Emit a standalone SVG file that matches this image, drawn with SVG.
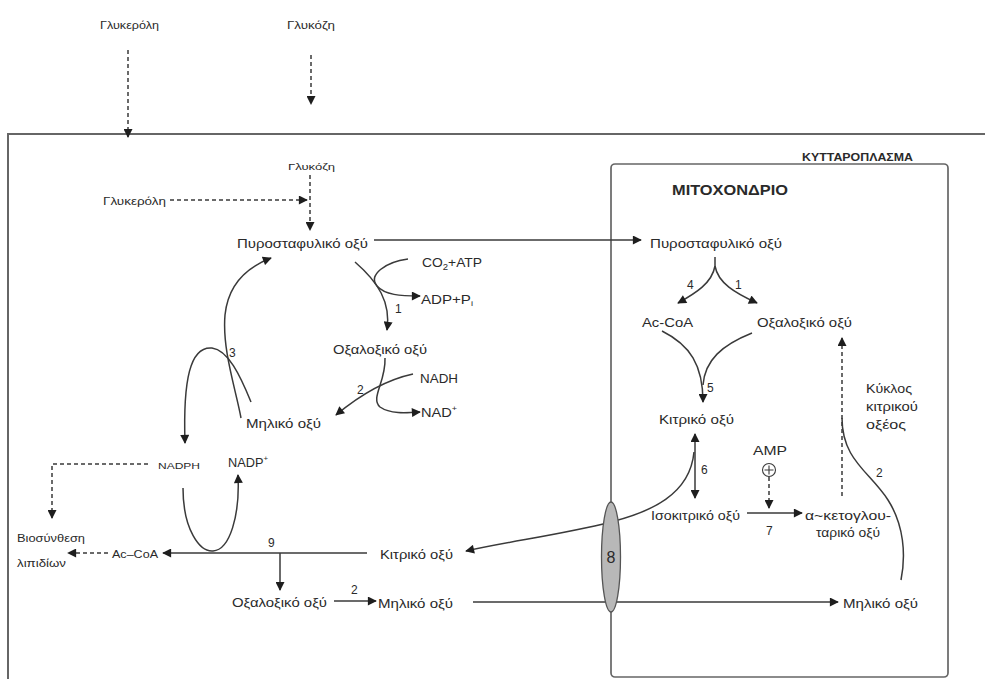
<svg xmlns="http://www.w3.org/2000/svg" width="985" height="679" viewBox="0 0 985 679">
<style>
  text { font-family: "Liberation Sans", Arial, sans-serif; fill: #2a2a2a; }
  .s9 { font-size: 9.5px; }
  .s10 { font-size: 10px; }
  .s12 { font-size: 12px; }
  .s13 { font-size: 13px; }
  .ln { fill: none; stroke: #3a3a3a; stroke-width: 1.5; }
  .ds { stroke-dasharray: 4 3; }
  .frame { fill: none; stroke: #666; stroke-width: 2; }
</style>
<defs>
  <marker id="ah" viewBox="0 0 10 10" refX="9" refY="5" markerWidth="10" markerHeight="9" markerUnits="userSpaceOnUse" orient="auto">
    <path d="M0,0 L10,5 L0,10 z" fill="#1e1e1e"/>
  </marker>
</defs>
<rect width="985" height="679" fill="#fff"/>

<g id="compartments">
  <path class="frame" d="M 8 679 L 8 134 L 985 134"/>
  <rect x="611" y="164" width="337" height="513" rx="4" fill="none" stroke="#666" stroke-width="1.7"/>
  <text x="802" y="161" font-size="10" font-weight="bold" textLength="111" lengthAdjust="spacingAndGlyphs">ΚΥΤΤΑΡΟΠΛΑΣΜΑ</text>
  <text x="672" y="195" font-size="14" font-weight="bold" textLength="116" lengthAdjust="spacingAndGlyphs">ΜΙΤΟΧΟΝΔΡΙΟ</text>
</g>

<g id="connectors">
  <path class="ln ds" d="M 128 50 L 128 137" marker-end="url(#ah)"/>
  <path class="ln ds" d="M 311 55 L 311 104" marker-end="url(#ah)"/>
  <path class="ln ds" d="M 310 175 L 310 230" marker-end="url(#ah)"/>
  <path class="ln ds" d="M 170 200 L 307 200" marker-end="url(#ah)"/>
  <path class="ln" d="M 374 240 L 641 240" marker-end="url(#ah)"/>
  <path class="ln" d="M 355 262 C 378 282, 391 302, 387 330" marker-end="url(#ah)"/>
  <path class="ln" d="M 408 259 C 385 262, 368 275, 377 286 C 385 295, 400 296, 420 296" marker-end="url(#ah)"/>
  <path class="ln" d="M 385 358 C 386 382, 370 398, 380 407 C 390 414, 405 413, 420 412" marker-end="url(#ah)"/>
  <path class="ln" d="M 413 374 C 385 380, 360 395, 336 415" marker-end="url(#ah)"/>
  <path class="ln" d="M 241 418 C 236 390, 222 350, 225 315 C 228 285, 245 268, 271 258" marker-end="url(#ah)"/>
  <path class="ln" d="M 251 402 C 240 375, 228 350, 212 348 C 190 346, 183 380, 185 443" marker-end="url(#ah)"/>
  <path class="ln" d="M 183 488 C 183 530, 200 552, 213 551 C 230 550, 240 515, 238 475" marker-end="url(#ah)"/>
  <path class="ln ds" d="M 148 464 L 52 464 L 52 518" marker-end="url(#ah)"/>
  <path class="ln" d="M 367 553 L 163 553" marker-end="url(#ah)"/>
  <path class="ln" d="M 280 553 L 280 590" marker-end="url(#ah)"/>
  <path class="ln ds" d="M 108 553 L 68 553" marker-end="url(#ah)"/>
  <path class="ln" d="M 334 601 L 376 601" marker-end="url(#ah)"/>
  <path class="ln" d="M 473 602 L 838 602" marker-end="url(#ah)"/>
  <path class="ln" d="M 715 257 L 715 266 C 712 283, 696 293, 678 303" marker-end="url(#ah)"/>
  <path class="ln" d="M 715 266 C 718 283, 735 293, 757 303" marker-end="url(#ah)"/>
  <path class="ln" d="M 662 331 C 690 345, 703 365, 703 402" marker-end="url(#ah)"/>
  <path class="ln" d="M 752 333 C 722 345, 705 360, 703 385"/>
  <path class="ln" d="M 695 466 L 695 434" marker-end="url(#ah)"/>
  <path class="ln" d="M 695 466 L 695 498" marker-end="url(#ah)"/>
  <path class="ln" d="M 694 452 C 690 495, 650 512, 611 522 C 560 535, 510 541, 466 551" marker-end="url(#ah)"/>
  <path class="ln ds" d="M 769 477 L 769 508" marker-end="url(#ah)"/>
  <path class="ln" d="M 747 513 L 802 513" marker-end="url(#ah)"/>
  <path class="ln ds" d="M 842 496 L 842 338" marker-end="url(#ah)"/>
  <path class="ln" d="M 842 418 C 842 460, 870 472, 888 500 C 904 525, 906 555, 901 580"/>
</g>

<g id="transporter8">
  <ellipse cx="611" cy="557" rx="9.5" ry="55" fill="#b8b8b8" stroke="#555" stroke-width="1.3"/>
  <text x="611" y="563" text-anchor="middle" font-size="16">8</text>
</g>

<g id="n-glycerol-out"><text x="100" y="29" class="s10" textLength="59" lengthAdjust="spacingAndGlyphs">Γλυκερόλη</text></g>
<g id="n-glucose-out"><text x="287" y="29" class="s10" textLength="48" lengthAdjust="spacingAndGlyphs">Γλυκόζη</text></g>
<g id="n-glucose-in"><text x="288" y="170" class="s9" textLength="47" lengthAdjust="spacingAndGlyphs">Γλυκόζη</text></g>
<g id="n-glycerol-in"><text x="103" y="205" class="s10" textLength="63" lengthAdjust="spacingAndGlyphs">Γλυκερόλη</text></g>
<g id="n-pyruvate-cyto"><text x="237" y="248" class="s13" textLength="131" lengthAdjust="spacingAndGlyphs">Πυροσταφυλικό οξύ</text></g>
<g id="n-co2atp"><text x="422" y="267" class="s13" textLength="60" lengthAdjust="spacingAndGlyphs">CO<tspan font-size="9" dy="3">2</tspan><tspan dy="-3">+ATP</tspan></text></g>
<g id="n-adppi"><text x="421" y="304" class="s13" textLength="52" lengthAdjust="spacingAndGlyphs">ADP+P<tspan font-size="8" dy="2">i</tspan></text></g>
<g id="l-1a"><text x="395" y="313" class="s12">1</text></g>
<g id="n-oxal-cyto"><text x="333" y="354" class="s13" textLength="94" lengthAdjust="spacingAndGlyphs">Οξαλοξικό οξύ</text></g>
<g id="n-nadh"><text x="420" y="383" class="s13" textLength="38" lengthAdjust="spacingAndGlyphs">NADH</text></g>
<g id="n-nad"><text x="421" y="417" class="s13" textLength="36" lengthAdjust="spacingAndGlyphs">NAD<tspan font-size="8" dy="-6">+</tspan></text></g>
<g id="l-2a"><text x="357" y="394" class="s12">2</text></g>
<g id="n-malate-cyto"><text x="246" y="428" class="s13" textLength="75" lengthAdjust="spacingAndGlyphs">Μηλικό οξύ</text></g>
<g id="l-3"><text x="229" y="357" class="s12">3</text></g>
<g id="n-nadph"><text x="158" y="469" class="s9" textLength="42" lengthAdjust="spacingAndGlyphs">NADPH</text></g>
<g id="n-nadp"><text x="228" y="467" class="s13" textLength="40" lengthAdjust="spacingAndGlyphs">NADP<tspan font-size="8" dy="-6">+</tspan></text></g>
<g id="n-lipid"><text x="17" y="542" class="s10" textLength="68" lengthAdjust="spacingAndGlyphs">Βιοσύνθεση</text><text x="17" y="567" class="s10" textLength="49" lengthAdjust="spacingAndGlyphs">λιπιδίων</text></g>
<g id="n-accoa-cyto"><text x="112" y="558" class="s10" textLength="46" lengthAdjust="spacingAndGlyphs">Ac–CoA</text></g>
<g id="l-9"><text x="268" y="547" class="s12">9</text></g>
<g id="n-citrate-cyto"><text x="380" y="559" class="s13" textLength="73" lengthAdjust="spacingAndGlyphs">Κιτρικό οξύ</text></g>
<g id="n-oxal-cyto2"><text x="232" y="607" class="s13" textLength="95" lengthAdjust="spacingAndGlyphs">Οξαλοξικό οξύ</text></g>
<g id="l-2b"><text x="351" y="594" class="s12">2</text></g>
<g id="n-malate-cyto2"><text x="378" y="608" class="s13" textLength="75" lengthAdjust="spacingAndGlyphs">Μηλικό οξύ</text></g>
<g id="n-pyruvate-mito"><text x="650" y="248" class="s13" textLength="132" lengthAdjust="spacingAndGlyphs">Πυροσταφυλικό οξύ</text></g>
<g id="l-4"><text x="687" y="289" class="s12">4</text></g>
<g id="l-1b"><text x="735" y="289" class="s12">1</text></g>
<g id="n-accoa-mito"><text x="642" y="327" class="s12" textLength="51" lengthAdjust="spacingAndGlyphs">Ac-CoA</text></g>
<g id="n-oxal-mito"><text x="757" y="327" class="s12" textLength="95" lengthAdjust="spacingAndGlyphs">Οξαλοξικό οξύ</text></g>
<g id="l-5"><text x="707" y="392" class="s12">5</text></g>
<g id="n-citrate-mito"><text x="659" y="424" class="s12" textLength="75" lengthAdjust="spacingAndGlyphs">Κιτρικό οξύ</text></g>
<g id="l-6"><text x="701" y="474" class="s12">6</text></g>
<g id="n-amp"><text x="753" y="455" class="s12" textLength="34" lengthAdjust="spacingAndGlyphs">AMP</text>
  <circle cx="769" cy="470" r="6.5" fill="none" stroke="#3a3a3a" stroke-width="1.1"/>
  <path d="M 764.5 470 L 773.5 470 M 769 465.5 L 769 474.5" stroke="#3a3a3a" stroke-width="1.1"/></g>
<g id="n-isocitrate"><text x="651" y="520" class="s12" textLength="89" lengthAdjust="spacingAndGlyphs">Ισοκιτρικό οξύ</text></g>
<g id="l-7"><text x="766" y="535" class="s12">7</text></g>
<g id="n-akg"><text x="805" y="520" class="s12" textLength="86" lengthAdjust="spacingAndGlyphs">α~κετογλου-</text><text x="816" y="537" class="s12" textLength="64" lengthAdjust="spacingAndGlyphs">ταρικό οξύ</text></g>
<g id="n-cycle"><text x="866" y="393" class="s12" textLength="46" lengthAdjust="spacingAndGlyphs">Κύκλος</text><text x="866" y="411" class="s12" textLength="52" lengthAdjust="spacingAndGlyphs">κιτρικού</text><text x="866" y="429" class="s12" textLength="40" lengthAdjust="spacingAndGlyphs">οξέος</text></g>
<g id="l-2c"><text x="876" y="477" class="s12">2</text></g>
<g id="n-malate-mito"><text x="843" y="608" class="s13" textLength="75" lengthAdjust="spacingAndGlyphs">Μηλικό οξύ</text></g>
</svg>
